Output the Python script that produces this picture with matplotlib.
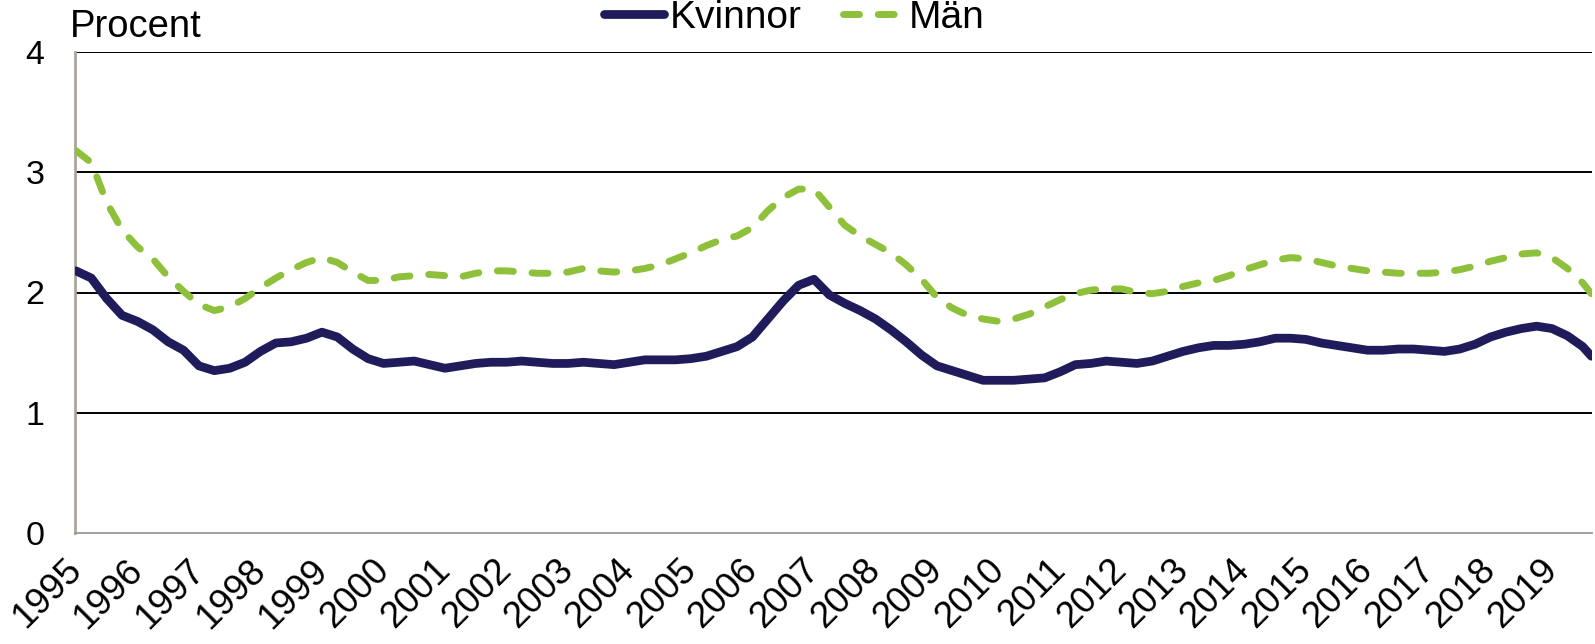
import numpy as np
import matplotlib.pyplot as plt

plt.rcParams['font.family'] = ['Liberation Sans', 'DejaVu Sans']

# quarterly readings, 1995 Q1 .. 2019 Q3 (last point ~ Aug 2019)
kvinnor = [2.18, 2.12, 1.95, 1.81, 1.76, 1.69, 1.59, 1.52, 1.39, 1.35,
           1.37, 1.42, 1.51, 1.58, 1.59, 1.62, 1.67, 1.63, 1.53, 1.45,
           1.41, 1.42, 1.43, 1.40, 1.37, 1.39, 1.41, 1.42, 1.42, 1.43,
           1.42, 1.41, 1.41, 1.42, 1.41, 1.40, 1.42, 1.44, 1.44, 1.44,
           1.45, 1.47, 1.51, 1.55, 1.63, 1.78, 1.93, 2.06, 2.11, 1.98,
           1.91, 1.85, 1.78, 1.69, 1.59, 1.48, 1.39, 1.35, 1.31, 1.27,
           1.27, 1.27, 1.28, 1.29, 1.34, 1.40, 1.41, 1.43, 1.42, 1.41,
           1.43, 1.47, 1.51, 1.54, 1.56, 1.56, 1.57, 1.59, 1.62, 1.62,
           1.61, 1.58, 1.56, 1.54, 1.52, 1.52, 1.53, 1.53, 1.52, 1.51,
           1.53, 1.57, 1.63, 1.67, 1.70, 1.72, 1.70, 1.64, 1.55, 1.47]

man = [3.18, 3.08, 2.75, 2.52, 2.38, 2.28, 2.13, 2.01, 1.90, 1.85,
       1.88, 1.95, 2.04, 2.12, 2.19, 2.25, 2.29, 2.25, 2.17, 2.10,
       2.10, 2.13, 2.14, 2.15, 2.14, 2.13, 2.16, 2.18, 2.18, 2.17,
       2.16, 2.16, 2.17, 2.20, 2.18, 2.17, 2.18, 2.20, 2.23, 2.28,
       2.33, 2.39, 2.44, 2.47, 2.54, 2.68, 2.79, 2.86, 2.86, 2.71,
       2.56, 2.47, 2.40, 2.33, 2.23, 2.11, 1.96, 1.87, 1.81, 1.78,
       1.76, 1.78, 1.82, 1.88, 1.94, 1.99, 2.02, 2.03, 2.03, 2.00,
       1.99, 2.01, 2.05, 2.08, 2.10, 2.14, 2.19, 2.23, 2.27, 2.29,
       2.28, 2.25, 2.22, 2.20, 2.18, 2.17, 2.16, 2.16, 2.16, 2.17,
       2.19, 2.22, 2.26, 2.29, 2.32, 2.33, 2.29, 2.20, 2.08, 1.99]

dates = list(1995 + np.arange(99) * 0.25) + [2019.64]
years = list(range(1995, 2020))

fig = plt.figure(figsize=(15.95, 6.44), dpi=100)
ax = fig.add_axes([75 / 1595, 1 - 533 / 644, (1592 - 75) / 1595, (533 - 52) / 644])

ax.plot(dates, kvinnor, color='#201c5c', lw=6.3, solid_capstyle='round',
        solid_joinstyle='round', label='Kvinnor', zorder=3)
ax.plot(dates, man, color='#8fc03c', lw=5, dashes=(2.3, 2.7),
        dash_capstyle='round', dash_joinstyle='round', label='Män', zorder=3)

ax.set_xlim(1994.985, 2019.65)
ax.set_ylim(0, 4)
ax.set_yticks([0, 1, 2, 3, 4])
ax.set_xticks(years)
ax.set_xticklabels([str(y) for y in years], rotation=45, ha='right',
                   va='center', rotation_mode='anchor')
ax.tick_params(axis='both', length=0, colors='black')
ax.tick_params(axis='y', pad=22, labelsize=24.5)
ax.tick_params(axis='x', pad=23, labelsize=26.5)

for v in [1, 2, 3, 4]:
    ax.axhline(v, color='black', lw=1.4, zorder=1)

ax.spines['top'].set_visible(False)
ax.spines['right'].set_visible(False)
ax.spines['bottom'].set_color('#999999')
ax.spines['bottom'].set_linewidth(1.3)
ax.spines['left'].set_color('#aaa59e')
ax.spines['left'].set_linewidth(2)

fig.text(70 / 1595, 1 - 37 / 644, 'Procent', fontsize=27.5, va='baseline', ha='left')

fig.legend(loc='center', bbox_to_anchor=(794 / 1595, 1 - 18 / 644), ncol=2,
           frameon=False, fontsize=28, handlelength=1.55, handletextpad=0.15,
           columnspacing=1.05, borderpad=0, borderaxespad=0)

fig.savefig('out.png', dpi=100)
